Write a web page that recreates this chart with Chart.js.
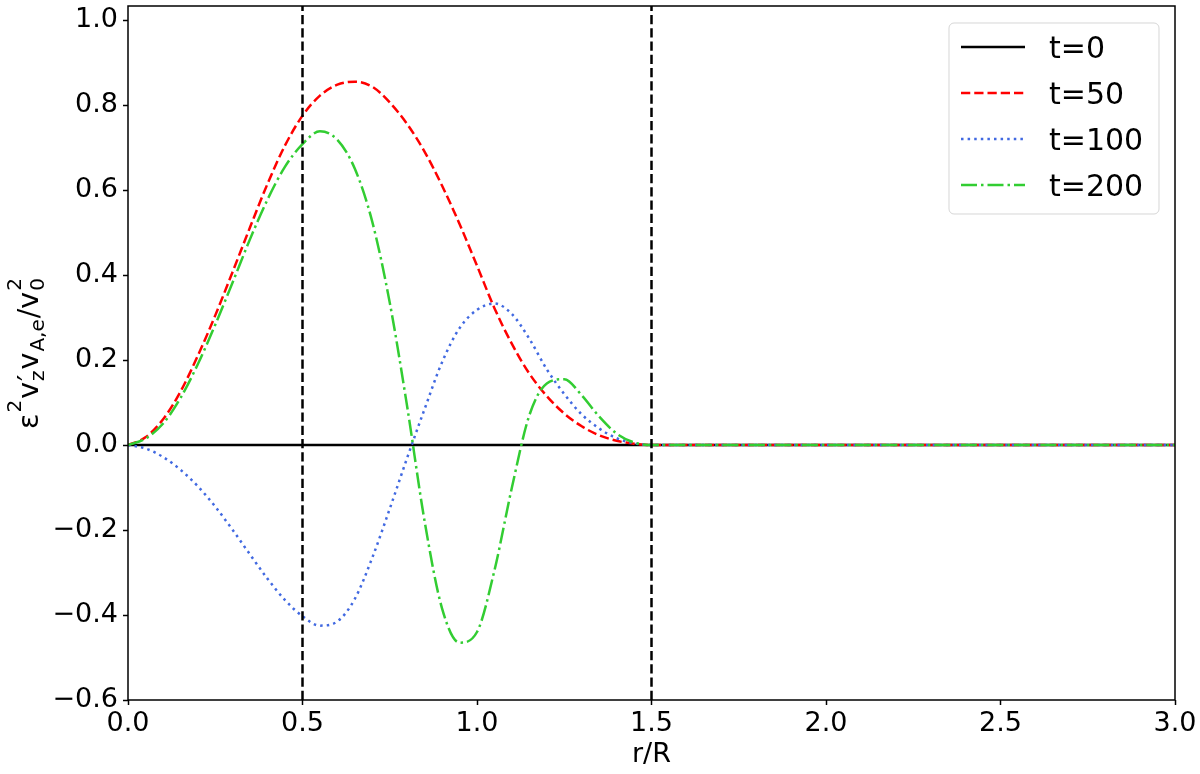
<!DOCTYPE html>
<html lang="en">
<head>
  <meta charset="UTF-8">
  <title>vz profile</title>
  <script src="https://cdn.jsdelivr.net/npm/chart.js"></script>
  <style>
    html, body { margin: 0; padding: 0; background: #fff; }
    #wrap { width: 1200px; height: 774px; }
  </style>
</head>
<body>
  <div id="wrap"><canvas id="chart"></canvas></div>

  <script>
    // radial positions (r/R) and the profiles
    const r = [0, 0.05, 0.1, 0.15, 0.2, 0.25, 0.3, 0.35, 0.4, 0.45, 0.5, 0.55, 0.6, 0.65, 0.7, 0.75,
               0.8, 0.85, 0.9, 0.95, 1.0, 1.05, 1.1, 1.15, 1.2, 1.25, 1.3, 1.35, 1.4, 1.45, 1.5, 3.0];
    const v50 = [0, 0.018, 0.06, 0.125, 0.21, 0.305, 0.408, 0.513, 0.615, 0.705, 0.775, 0.822, 0.848, 0.855, 0.843, 0.806,
                 0.755, 0.69, 0.61, 0.52, 0.422, 0.322, 0.238, 0.168, 0.115, 0.074, 0.044, 0.023, 0.01, 0.003, 0, 0];
    const v100 = [0, -0.008, -0.028, -0.058, -0.097, -0.145, -0.2, -0.258, -0.315, -0.365, -0.403, -0.425, -0.415, -0.362, -0.265, -0.15,
                  -0.03, 0.085, 0.195, 0.275, 0.318, 0.333, 0.308, 0.25, 0.178, 0.12, 0.072, 0.039, 0.016, 0.004, 0, 0];
    const v200 = [0, 0.015, 0.05, 0.11, 0.19, 0.283, 0.383, 0.485, 0.578, 0.655, 0.708, 0.738, 0.718, 0.65, 0.525, 0.335,
                  0.09, -0.18, -0.385, -0.465, -0.44, -0.295, -0.1, 0.07, 0.145, 0.155, 0.117, 0.067, 0.027, 0.006, 0, 0];
    const r0 = [0, 3];
    const v0 = [0, 0];
    const vlines = [0.5, 1.5];

    const labels = ['t=0', 't=50', 't=100', 't=200'];
    const xTicks = [0, 0.5, 1, 1.5, 2, 2.5, 3];
    const yTicks = [-0.6, -0.4, -0.2, 0, 0.2, 0.4, 0.6, 0.8, 1.0];
    const xMin = 0, xMax = 3, yMin = -0.6, yMax = 1.033;

    const pts = (xs, ys) => xs.map((x, i) => ({ x: x, y: ys[i] }));
    const fmt = v => (Math.abs(v) < 1e-9 ? 0 : v).toFixed(1).replace('-', '\u2212');

    Chart.defaults.font.family = "'DejaVu Sans', sans-serif";
    Chart.defaults.color = '#000';

    const curve = (label, data, color, dash, order) => ({
      label: label,
      data: data,
      borderColor: color,
      borderWidth: 2.5,
      borderDash: dash,
      pointRadius: 0,
      cubicInterpolationMode: 'monotone',
      fill: false,
      order: order
    });

    const datasets = [
      curve(labels[0], pts(r0, v0), '#000000', [], 6),
      curve(labels[1], pts(r, v50), '#ff0000', [9.25, 4], 5),
      curve(labels[2], pts(r, v100), '#4169e1', [2.5, 4.1], 4),
      curve(labels[3], pts(r, v200), '#32cd32', [16, 4, 2.5, 4], 3)
    ];
    vlines.forEach(x => datasets.push({
      data: [{ x: x, y: yMin }, { x: x, y: yMax }],
      borderColor: '#000', borderWidth: 2.5, borderDash: [9.25, 4],
      pointRadius: 0, fill: false, order: 1
    }));

    // matplotlib-like full frame
    const frame = {
      id: 'frame',
      afterDatasetsDraw(chart) {
        const a = chart.chartArea, ctx = chart.ctx;
        ctx.save();
        ctx.strokeStyle = '#000';
        ctx.lineWidth = 1.5;
        ctx.strokeRect(a.left, a.top, a.right - a.left, a.bottom - a.top);
        ctx.restore();
      }
    };

    // y axis label with sub/superscripts: [kind, text or sup, sub, sup size, sup raise]
    const yTitle = {
      id: 'yTitle',
      afterDraw(chart) {
        const ctx = chart.ctx, a = chart.chartArea;
        const big = 28.5, small = 20, down = 6;
        const parts = [['n', 'ε'], ['s', '2', null, small, 17], ['n', 'v'], ['s', '\u2032', 'z', big, 0], ['n', 'v'],
                       ['s', null, 'A,e', small, 0], ['n', '/v'], ['s', '2', '0', small, 17]];
        const fnt = s => s + "px 'DejaVu Sans'";
        let total = 0;
        const widths = parts.map(p => {
          let w;
          if (p[0] === 'n') { ctx.font = fnt(big); w = ctx.measureText(p[1]).width; }
          else {
            ctx.font = fnt(p[3]);
            const ws = p[1] ? ctx.measureText(p[1]).width : 0;
            ctx.font = fnt(small);
            const wb = p[2] ? ctx.measureText(p[2]).width : 0;
            w = Math.max(ws, wb) + 2;
          }
          total += w;
          return w;
        });
        ctx.save();
        ctx.translate(38, (a.top + a.bottom) / 2);
        ctx.rotate(-Math.PI / 2);
        ctx.fillStyle = '#000';
        ctx.textBaseline = 'alphabetic';
        ctx.textAlign = 'left';
        let x = -total / 2;
        parts.forEach((p, i) => {
          if (p[0] === 'n') { ctx.font = fnt(big); ctx.fillText(p[1], x, 0); }
          else {
            if (p[1]) { ctx.font = fnt(p[3]); ctx.fillText(p[1], x + 1, -p[4]); }
            ctx.font = fnt(small);
            if (p[2]) ctx.fillText(p[2], x + 1, down);
          }
          x += widths[i];
        });
        ctx.restore();
      }
    };

    // legend box in the upper right corner
    const boxLegend = {
      id: 'boxLegend',
      afterDraw(chart) {
        const ctx = chart.ctx, a = chart.chartArea;
        const items = chart.data.datasets.filter(d => d.label);
        const bx = a.right - 226, by = a.top + 17, bw = 210, bh = 191;
        ctx.save();
        ctx.beginPath();
        ctx.roundRect(bx, by, bw, bh, 5);
        ctx.fillStyle = 'rgba(255,255,255,0.8)';
        ctx.fill();
        ctx.strokeStyle = 'rgba(204,204,204,0.8)';
        ctx.lineWidth = 1;
        ctx.stroke();
        items.forEach((d, i) => {
          const yc = by + 24 + i * 46;
          ctx.beginPath();
          ctx.setLineDash(d.borderDash);
          ctx.strokeStyle = d.borderColor;
          ctx.lineWidth = d.borderWidth;
          ctx.moveTo(bx + 12, yc);
          ctx.lineTo(bx + 76, yc);
          ctx.stroke();
          ctx.setLineDash([]);
          ctx.fillStyle = '#000';
          ctx.font = "30px 'DejaVu Sans'";
          ctx.textBaseline = 'alphabetic';
          ctx.fillText(d.label, bx + 100, yc + 11);
        });
        ctx.restore();
      }
    };

    new Chart(document.getElementById('chart'), {
      type: 'line',
      data: { datasets: datasets },
      plugins: [frame, yTitle, boxLegend],
      options: {
        responsive: true,
        maintainAspectRatio: false,
        animation: false,
        layout: { padding: { top: 6, right: 25, left: 0, bottom: 0 } },
        plugins: { legend: { display: false }, tooltip: { enabled: false } },
        scales: {
          x: {
            type: 'linear', min: xMin, max: xMax,
            afterBuildTicks: s => { s.ticks = xTicks.map(v => ({ value: v })); },
            afterFit: s => { s.height = 74; s.paddingLeft = 0; s.paddingRight = 0; },
            border: { display: false },
            grid: { drawOnChartArea: false, drawTicks: true, tickLength: 5, tickColor: '#000', tickWidth: 1.5 },
            ticks: { callback: v => fmt(v), font: { size: 27 }, padding: 3, maxRotation: 0 },
            title: { display: true, text: 'r/R', font: { size: 27 }, padding: { top: 0, bottom: 3 } }
          },
          y: {
            type: 'linear', min: yMin, max: yMax,
            afterBuildTicks: s => { s.ticks = yTicks.map(v => ({ value: v })); },
            afterFit: s => { s.width = 128; s.paddingTop = 0; s.paddingBottom = 0; },
            border: { display: false },
            grid: { drawOnChartArea: false, drawTicks: true, tickLength: 5, tickColor: '#000', tickWidth: 1.5 },
            ticks: { callback: v => fmt(v), font: { size: 27 }, padding: 5 }
          }
        }
      }
    });
  </script>
</body>
</html>
